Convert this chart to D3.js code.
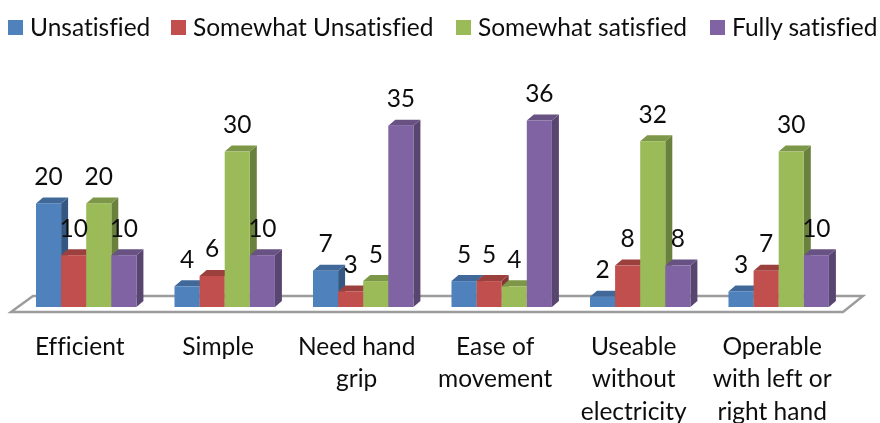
<!DOCTYPE html>
<html><head><meta charset="utf-8">
<script src="https://cdn.jsdelivr.net/npm/d3@7/dist/d3.min.js"></script>
<style>html,body{margin:0;padding:0;background:#fff}svg{display:block}text{font-family:Lato,"Open Sans",sans-serif;fill:#111;font-variant-ligatures:none}</style>
</head><body><div id="c"></div>
<script>
const categories = ["Efficient","Simple","Need hand grip","Ease of movement","Useable without electricity","Operable with left or right hand"];
const categoryLines = [["Efficient"],["Simple"],["Need hand","grip"],["Ease of","movement"],["Useable","without","electricity"],["Operable","with left or","right hand"]];
const seriesNames = ["Unsatisfied","Somewhat Unsatisfied","Somewhat satisfied","Fully satisfied"];
const unsatisfied = [20,4,7,5,2,3];
const somewhatUnsatisfied = [10,6,3,5,8,7];
const somewhatSatisfied = [20,30,5,4,32,30];
const fullySatisfied = [10,10,35,36,8,10];
const seriesValues = [unsatisfied,somewhatUnsatisfied,somewhatSatisfied,fullySatisfied];
const colors = ["#4F81BD","#C0504D","#9BBB59","#8064A2"];
const legendTextX = [30,193,478,732];

const W=880,H=423,FS=24.5,dx=7,dy=6,base=307;
const svg=d3.select("#c").append("svg").attr("width",W).attr("height",H);
const defs=svg.append("defs");
defs.append("filter").attr("id","soft").append("feGaussianBlur").attr("stdDeviation",0.45);
const g=svg.append("g").attr("filter","url(#soft)");
svg.insert("rect","g").attr("width",W).attr("height",H).attr("fill","#fff");

const x0=d3.scaleBand().domain(categories).range([36,36+6*138.5-38.1]).paddingInner(0.275).paddingOuter(0);
const x1=d3.scaleBand().domain(seriesNames).range([0,x0.bandwidth()]);
const y=d3.scaleLinear().domain([0,36]).range([base,base-186.5]);

// floor
g.append("path").attr("d",`M11,312 L33,296 L863,296 L843,312 Z`)
 .attr("fill","#fff").attr("stroke","#9c9c9c").attr("stroke-width",2.4);

// bars
categories.forEach((c,i)=>{
  seriesNames.forEach((s,j)=>{
    const v=seriesValues[j][i],col=d3.color(colors[j]);
    const l=x0(c)+x1(s),w=x1.bandwidth(),r=l+w,t=y(v);
    const b=g.append("g");
    b.append("path").attr("d",`M${r},${base} L${r+dx},${base-dy} L${r+dx},${t-dy} L${r},${t} Z`).attr("fill",col.darker(1.05));
    b.append("path").attr("d",`M${l},${t} L${l+dx},${t-dy} L${r+dx},${t-dy} L${r},${t} Z`).attr("fill",col.darker(0.6));
    b.append("rect").attr("x",l).attr("y",t).attr("width",w).attr("height",base-t).attr("fill",colors[j]);
  });
});
// value labels
categories.forEach((c,i)=>{
  seriesNames.forEach((s,j)=>{
    const v=seriesValues[j][i];
    g.append("text").attr("x",x0(c)+x1(s)+x1.bandwidth()/2).attr("y",y(v)-18.5)
     .attr("text-anchor","middle").attr("font-size",FS).text(v);
  });
});
// category labels
categories.forEach((c,i)=>{
  categoryLines[i].forEach((ln,k)=>{
    g.append("text").attr("x",x0(c)+x0.bandwidth()/2-6.5).attr("y",354.5+k*32.5)
     .attr("text-anchor","middle").attr("font-size",FS).text(ln);
  });
});
// legend
seriesNames.forEach((s,j)=>{
  g.append("rect").attr("x",legendTextX[j]-22).attr("y",20).attr("width",15).attr("height",15).attr("fill",colors[j]);
  g.append("text").attr("x",legendTextX[j]).attr("y",36).attr("font-size",FS).text(s);
});
</script></body></html>
